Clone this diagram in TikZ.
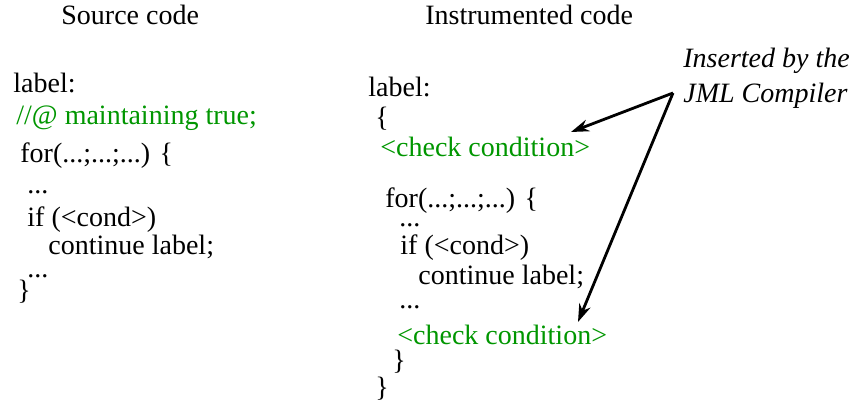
\documentclass[tikz,border=0pt]{standalone}
\usepackage{fontspec}
\setmainfont{Liberation Serif}
\usetikzlibrary{arrows.meta}
\definecolor{codegreen}{RGB}{0,150,0}
\begin{document}
\begin{tikzpicture}[x=0.5pt,y=-0.5pt,
  txt/.style={anchor=base west,inner sep=0pt,font=\fontsize{14}{16}\selectfont},
  grn/.style={txt,text=codegreen},
  ital/.style={txt,font=\fontsize{14}{16}\selectfont\itshape},
  arr/.style={line width=1.4pt,-{Stealth[length=9pt,width=6pt]}}]
\useasboundingbox (0,0) rectangle (861,415);
% titles
\node[txt] (t1) at (61,25) {Source code};
\node[txt] (t2) at (425,25) {Instrumented code};
% left column
\node[txt] (l1) at (13,93) {label:};
\node[grn] (l2) at (16,125) {//@ maintaining true;};
\node[txt] (l3) at (20,163) {for(...;...;...) \{};
\node[txt] (l4) at (27,194) {...};
\node[txt] (l5) at (27,227) {if (<cond>)};
\node[txt] (l6) at (48,255) {continue label;};
\node[txt] (l7) at (27,278) {...};
\node[txt] (l8) at (17,300) {\}};
% right column
\node[txt] (r1) at (368,97) {label:};
\node[txt] (r2) at (375,127) {\{};
\node[grn] (r3) at (380,157) {<check condition>};
\node[txt] (r4) at (385,208) {for(...;...;...) \{};
\node[txt] (r5) at (399,227) {...};
\node[txt] (r6) at (400,255) {if (<cond>)};
\node[txt] (r7) at (418,285) {continue label;};
\node[txt] (r8) at (399,309) {...};
\node[grn] (r9) at (397,345) {<check condition>};
\node[txt] (r10) at (392,370) {\}};
\node[txt] (r11) at (375,397) {\}};
% annotation
\node[ital] (n1) at (683,68) {Inserted by the};
\node[ital] (n2) at (683,103) {JML Compiler};
\coordinate (apex) at (673,93);
\coordinate (e1) at (571,132);
\coordinate (e2) at (578,322);
\draw[arr] (apex) -- (e1);
\draw[arr] (apex) -- (e2);
\end{tikzpicture}
\end{document}
